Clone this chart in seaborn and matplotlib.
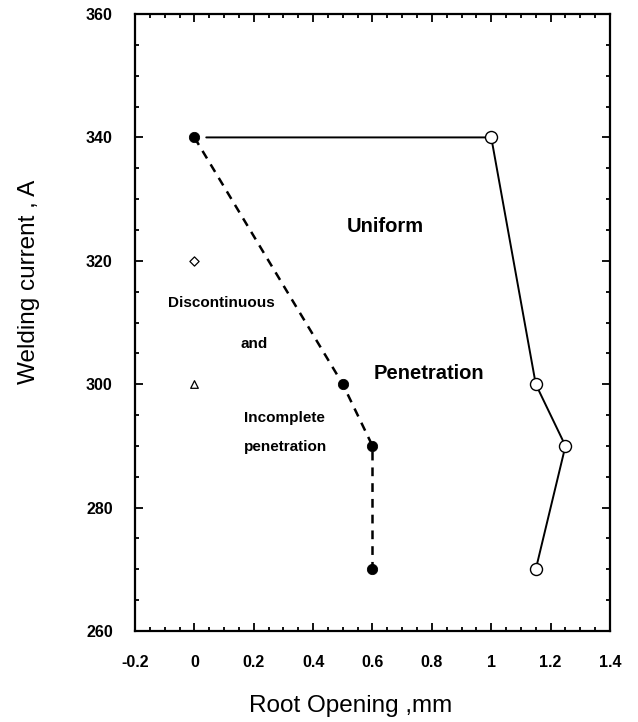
import numpy as np
import pandas as pd
import matplotlib
matplotlib.use("Agg")
import matplotlib.pyplot as plt
import seaborn as sns
from matplotlib.ticker import MultipleLocator, FuncFormatter

# Data
incomplete_x = [0.0, 0.5, 0.6, 0.6]
incomplete_y = [340, 300, 290, 270]
uniform_x = [1.0, 1.15, 1.25, 1.15]
uniform_y = [340, 300, 290, 270]
diamond_x = [0.0]
diamond_y = [320]
triangle_x = [0.0]
triangle_y = [300]

sns.set_style("ticks", {'text.color': 'black', 'axes.labelcolor': 'black',
                        'xtick.color': 'black', 'ytick.color': 'black',
                        'axes.edgecolor': 'black'})
plt.rcParams['font.family'] = ['Liberation Sans', 'DejaVu Sans']

fig = plt.figure(figsize=(6.38, 7.22), dpi=100)
ax = fig.add_axes([0.2116, 0.126, 0.7445, 0.8546])

inc_df = pd.DataFrame({'x': incomplete_x, 'y': incomplete_y})
uni_df = pd.DataFrame({'x': uniform_x, 'y': uniform_y})

# boundary lines
sns.lineplot(data=inc_df, x='x', y='y', sort=False, estimator=None, ax=ax,
             color='black', linestyle=(0, (3.5, 2.8)), linewidth=1.8)
# solid boundary starts just right of the first filled point
top_x = [incomplete_x[0] + 0.04] + uniform_x
top_y = [incomplete_y[0]] + uniform_y
sns.lineplot(x=top_x, y=top_y, sort=False, estimator=None, ax=ax,
             color='black', linewidth=1.4)

sns.scatterplot(data=inc_df, x='x', y='y', ax=ax, color='black', s=55,
                edgecolor='black', zorder=5)
sns.scatterplot(data=uni_df, x='x', y='y', ax=ax, color='white', s=75,
                edgecolor='black', linewidth=1.0, zorder=5)
sns.scatterplot(x=diamond_x, y=diamond_y, ax=ax, marker='D', color='white',
                s=22, edgecolor='black', linewidth=0.9, zorder=5)
sns.scatterplot(x=triangle_x, y=triangle_y, ax=ax, marker='^', color='white',
                s=30, edgecolor='black', linewidth=0.9, zorder=5)

# region labels
ax.text(0.643, 325.5, 'Uniform', ha='center', va='center', fontsize=14.5, fontweight='bold')
ax.text(0.791, 301.8, 'Penetration', ha='center', va='center', fontsize=14.5, fontweight='bold')
ax.text(0.091, 313.2, 'Discontinuous', ha='center', va='center', fontsize=11, fontweight='bold')
ax.text(0.202, 306.5, 'and', ha='center', va='center', fontsize=11, fontweight='bold')
ax.text(0.303, 294.5, 'Incomplete', ha='center', va='center', fontsize=11, fontweight='bold')
ax.text(0.306, 289.8, 'penetration', ha='center', va='center', fontsize=11, fontweight='bold')

ax.set_xlim(-0.2, 1.4)
ax.set_ylim(260, 360)
ax.xaxis.set_major_locator(MultipleLocator(0.2))
ax.xaxis.set_minor_locator(MultipleLocator(0.05))
ax.yaxis.set_major_locator(MultipleLocator(20))
ax.yaxis.set_minor_locator(MultipleLocator(5))
ax.xaxis.set_major_formatter(FuncFormatter(lambda v, p: f"{v:g}" if abs(v) > 1e-9 else "0"))

ax.tick_params(which='both', direction='in', top=True, right=True, width=1.3)
ax.tick_params(which='major', length=6, labelsize=11.5)
ax.tick_params(axis='x', which='major', pad=17)
ax.tick_params(axis='y', which='major', pad=16)
ax.tick_params(which='minor', length=3)
for lab in ax.get_xticklabels() + ax.get_yticklabels():
    lab.set_fontweight('bold')
for sp in ax.spines.values():
    sp.set_linewidth(1.6)
    sp.set_visible(True)

ax.set_xlabel('Root Opening ,mm', fontsize=17.5)
ax.set_ylabel('Welding current , A', fontsize=17.5)
ax.xaxis.set_label_coords(0.455, -0.103)
ax.yaxis.set_label_coords(-0.20, 0.566)

fig.savefig('out.png', dpi=100)
